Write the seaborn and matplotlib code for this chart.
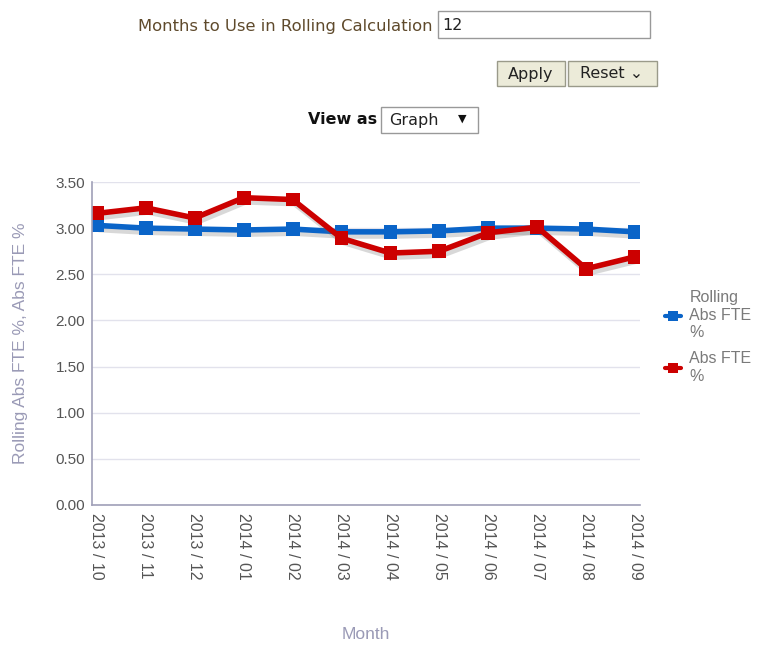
import pandas as pd
import matplotlib.pyplot as plt
import matplotlib.patheffects as pe
from matplotlib.patches import Rectangle
import seaborn as sns

months = ['2013 / 10', '2013 / 11', '2013 / 12', '2014 / 01', '2014 / 02', '2014 / 03',
          '2014 / 04', '2014 / 05', '2014 / 06', '2014 / 07', '2014 / 08', '2014 / 09']
rolling_abs_fte = [3.03, 3.00, 2.99, 2.98, 2.99, 2.96, 2.96, 2.97, 3.00, 3.00, 2.99, 2.96]
abs_fte = [3.16, 3.22, 3.11, 3.33, 3.31, 2.89, 2.73, 2.75, 2.95, 3.01, 2.56, 2.69]
y_ticks = [0.0, 0.5, 1.0, 1.5, 2.0, 2.5, 3.0, 3.5]

W, H = 760, 646
BLUE = '#0a64c8'
RED = '#cc0000'
AXIS_GREY = '#a0a0b8'
LABEL_GREY = '#9a9ab6'


def px(x, y):
    """pixel (top-left origin) -> figure fraction"""
    return x / W, 1 - y / H


def box(fig, x0, y0, x1, y1, face='white', edge='#a0a0a0'):
    (fx, fy) = px(x0, y1)
    fig.add_artist(Rectangle((fx, fy), (x1 - x0) / W, (y1 - y0) / H,
                             transform=fig.transFigure, facecolor=face,
                             edgecolor=edge, linewidth=1))


sns.set_style('white')
plt.rcParams['font.family'] = ['Liberation Sans', 'DejaVu Sans']

df = pd.DataFrame({'Month': months, 'Rolling': rolling_abs_fte, 'Abs': abs_fte})

fig = plt.figure(figsize=(W / 100, H / 100), dpi=100)
ax = fig.add_axes([92 / W, 1 - 505 / H, (640 - 92) / W, (505 - 182) / H])

shadow = [pe.SimpleLineShadow(offset=(1.5, -3), shadow_color='#666666', alpha=0.25),
          pe.Normal()]
sns.lineplot(data=df, x='Month', y='Rolling', ax=ax, color=BLUE, lw=4.0,
             marker='s', markersize=10, markeredgewidth=0, sort=False,
             label='Rolling\nAbs FTE\n%')
sns.lineplot(data=df, x='Month', y='Abs', ax=ax, color=RED, lw=4.0,
             marker='s', markersize=10, markeredgewidth=0, sort=False,
             label='Abs FTE\n%')
for line in ax.get_lines():
    line.set_path_effects(shadow)

ax.set_ylim(0, 3.5)
ax.set_yticks(y_ticks)
ax.set_yticklabels([f'{v:.2f}' for v in y_ticks])
ax.set_xlim(-0.1, len(months) - 0.9)
ax.grid(axis='y', color='#e2e2ec', lw=1)
ax.set_axisbelow(True)
for s in ['top', 'right']:
    ax.spines[s].set_visible(False)
for s in ['left', 'bottom']:
    ax.spines[s].set_color(AXIS_GREY)
    ax.spines[s].set_linewidth(1.2)
ax.tick_params(axis='x', rotation=270, labelsize=11.5, colors='#555555', length=0, pad=6)
ax.tick_params(axis='y', labelsize=11, colors='#555555', length=0, pad=5)
ax.set_xlabel('Month', fontsize=12.5, color=LABEL_GREY, labelpad=34)
ax.set_ylabel('Rolling Abs FTE %, Abs FTE %', fontsize=12.5, color=LABEL_GREY, labelpad=20)

leg = ax.legend(loc='center left', bbox_to_anchor=(1.02, 0.52), frameon=False,
                fontsize=11.5, handlelength=1.0, handletextpad=0.5,
                labelspacing=0.7, borderaxespad=0.5)
for t in leg.get_texts():
    t.set_color('#7a7a7a')
for h in leg.legend_handles:
    h.set_path_effects([])
    h.set_linewidth(3)
    h.set_markersize(7)

# filter controls above the chart
fig.text(*px(432, 27), 'Months to Use in Rolling Calculation', ha='right', va='center',
         fontsize=11.8, color='#5f4a2c', family='DejaVu Sans')
box(fig, 438, 11, 650, 38, edge='#999999')
fig.text(*px(442, 25), '12', ha='left', va='center', fontsize=11.5, color='#222222',
         family='DejaVu Sans')
box(fig, 497, 61, 565, 86, face='#ecebd9', edge='#9a9a8a')
fig.text(*px(531, 74), 'Apply', ha='center', va='center', fontsize=11.5,
         color='#222222', family='DejaVu Sans')
box(fig, 568, 61, 657, 86, face='#ecebd9', edge='#9a9a8a')
fig.text(*px(612, 74), 'Reset \u2304', ha='center', va='center', fontsize=11.5,
         color='#222222', family='DejaVu Sans')
fig.text(*px(377, 120), 'View as', ha='right', va='center', fontsize=11.5,
         fontweight='bold', color='#111111', family='DejaVu Sans')
box(fig, 381, 107, 478, 133, edge='#999999')
fig.text(*px(389, 120), 'Graph', ha='left', va='center', fontsize=11.5,
         color='#222222', family='DejaVu Sans')
fig.text(*px(462, 119), '\u25bc', ha='center', va='center', fontsize=8,
         color='#111111', family='DejaVu Sans')

fig.savefig('out.png', dpi=100)
